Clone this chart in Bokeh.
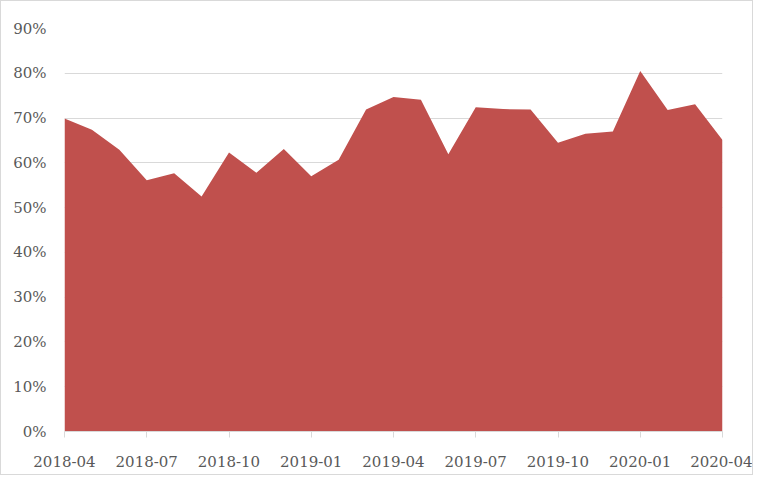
from bokeh.plotting import figure
from bokeh.models import ColumnDataSource, FixedTicker, NumeralTickFormatter, Range1d
from bokeh.embed import file_html
from bokeh.resources import INLINE

months = ["2018-04", "2018-05", "2018-06", "2018-07", "2018-08", "2018-09", "2018-10",
          "2018-11", "2018-12", "2019-01", "2019-02", "2019-03", "2019-04", "2019-05",
          "2019-06", "2019-07", "2019-08", "2019-09", "2019-10", "2019-11", "2019-12",
          "2020-01", "2020-02", "2020-03", "2020-04"]
values = [0.699, 0.674, 0.629, 0.561, 0.577, 0.525, 0.623, 0.578, 0.631, 0.570, 0.607,
          0.719, 0.747, 0.741, 0.619, 0.724, 0.720, 0.719, 0.645, 0.665, 0.670,
          0.805, 0.718, 0.731, 0.651]
tick_months = ["2018-04", "2018-07", "2018-10", "2019-01", "2019-04", "2019-07",
               "2019-10", "2020-01", "2020-04"]
y_ticks = [0, 0.1, 0.2, 0.3, 0.4, 0.5, 0.6, 0.7, 0.8, 0.9]

idx = list(range(len(months)))
src = ColumnDataSource(dict(x=idx, y=values, base=[0] * len(values)))

W, H = 753, 475
p = figure(width=W, height=H, output_backend="svg", toolbar_location=None,
           x_range=Range1d(0, len(months) - 1), y_range=Range1d(0, 0.9),
           min_border_left=63, min_border_right=32, min_border_top=27, min_border_bottom=45)
p.outline_line_color = None
p.background_fill_color = "white"
p.border_fill_color = "white"

p.varea(x="x", y1="base", y2="y", source=src, fill_color="#C0504D")

font = "DejaVu Serif"
ticks = [months.index(m) for m in tick_months]
p.xaxis.ticker = FixedTicker(ticks=ticks)
p.xaxis.major_label_overrides = {i: months[i] for i in ticks}
p.xaxis.axis_line_color = "#d9d9d9"
p.xaxis.major_tick_line_color = "#d9d9d9"
p.xaxis.major_tick_out = 6
p.xaxis.major_tick_in = 0
p.xaxis.minor_tick_line_color = None
p.xaxis.major_label_standoff = 18
p.xaxis.major_label_text_font = font
p.xaxis.major_label_text_font_size = "15px"
p.xaxis.major_label_text_color = "#595959"

p.yaxis.ticker = FixedTicker(ticks=y_ticks)
p.yaxis.formatter = NumeralTickFormatter(format="0%")
p.yaxis.axis_line_color = None
p.yaxis.major_tick_line_color = None
p.yaxis.minor_tick_line_color = None
p.yaxis.major_label_standoff = 12
p.yaxis.major_label_text_font = font
p.yaxis.major_label_text_font_size = "15px"
p.yaxis.major_label_text_color = "#595959"

p.xgrid.grid_line_color = None
p.ygrid.ticker = FixedTicker(ticks=y_ticks)
p.ygrid.grid_line_color = "#d9d9d9"
p.ygrid.grid_line_width = 1
p.ygrid.level = "underlay"

p.styles = {"border": "1px solid #d9d9d9"}

open("out.html", "w").write(file_html(p, INLINE))
